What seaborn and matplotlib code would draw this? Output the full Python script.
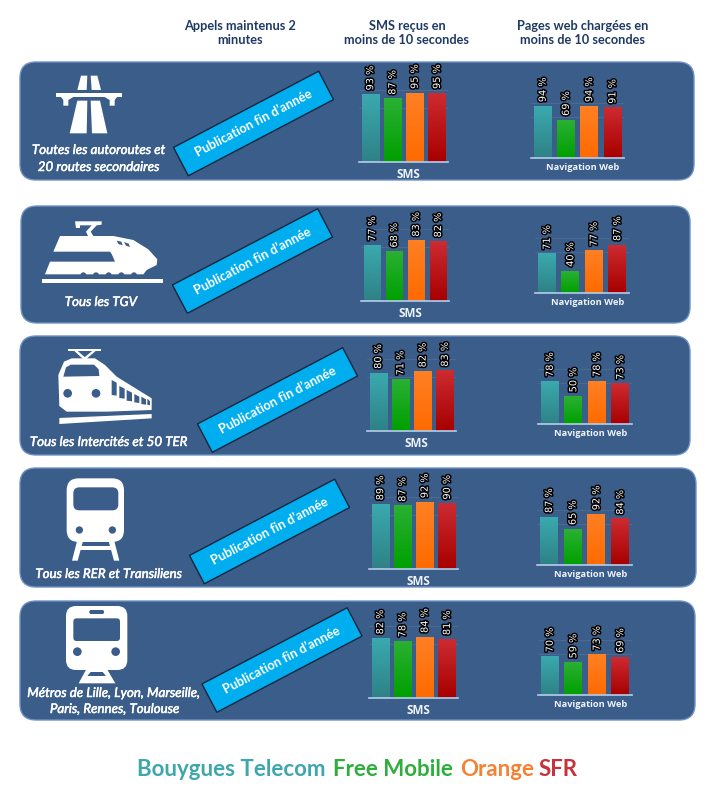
import numpy as np
import pandas as pd
import matplotlib
matplotlib.use("Agg")
import matplotlib.pyplot as plt
import matplotlib.patheffects as pe
from matplotlib.colors import LinearSegmentedColormap
from matplotlib.patches import Circle, FancyBboxPatch, Polygon
import seaborn as sns

operators = ["Bouygues Telecom", "Free Mobile", "Orange", "SFR"]
sms_values = [
    [93, 87, 95, 95],
    [77, 68, 83, 82],
    [80, 71, 82, 83],
    [89, 87, 92, 90],
    [82, 78, 84, 81],
]
web_values = [
    [94, 69, 94, 91],
    [71, 40, 77, 87],
    [78, 50, 78, 73],
    [87, 65, 92, 84],
    [70, 59, 73, 69],
]
row_labels = [
    ["Toutes les autoroutes et", "20 routes secondaires"],
    ["Tous les TGV"],
    ["Tous les Intercités et 50 TER"],
    ["Tous les RER et Transiliens"],
    ["Métros de Lille, Lyon, Marseille,", "Paris, Rennes, Toulouse"],
]
headers = [
    "Appels maintenus 2\nminutes",
    "SMS reçus en\nmoins de 10 secondes",
    "Pages web chargées en\nmoins de 10 secondes",
]
banner_text = "Publication fin d’année"

# layout, everything in image pixels
W, H = 709, 793
panels = [(20, 62, 694, 180), (21, 206, 690, 323), (20, 336, 690, 455), (20, 468, 696, 587), (20, 601, 695, 720)]
banners = [(253.5, 123.5), (252.5, 261), (277.5, 400), (269.5, 531.5), (282, 660)]
sms_axes = [(359, 448, 162), (361, 449, 301), (367, 456, 431), (369, 458, 569), (369, 458, 698)]
web_axes = [(531, 624, 158), (535, 629, 293), (538, 632, 424), (537, 632, 565), (538, 632, 695)]
label_pos = [
    [(99, 150), (99, 167)],
    [(101, 302)],
    [(109, 442)],
    [(109, 574)],
    [(114, 693), (115, 709)],
]
header_x = [240, 407, 583]
legend_x = [137, 333, 460, 539]

PANEL = "#3b5d8a"
TOPS = ["#3aa9ae", "#2ab033", "#ff8024", "#cc2b31"]
BOTTOMS = ["#2e8286", "#00a000", "#ff6a00", "#a80000"]
LEGEND_COLORS = ["#3ea6ad", "#2eae3a", "#f58132", "#c8323a"]

sns.set_theme(style="white")
plt.rcParams["font.family"] = ["Lato", "DejaVu Sans"]

fig = plt.figure(figsize=(W / 100, H / 100), dpi=100)
bg = fig.add_axes([0, 0, 1, 1])
bg.set_xlim(0, W)
bg.set_ylim(H, 0)
bg.axis("off")


def poly(pts, ox, oy, color="white", z=3):
    # icon outlines were read on the 3x crops, hence the /3
    xy = [(ox + x / 3, oy + y / 3) for x, y in pts]
    bg.add_patch(Polygon(xy, closed=True, fc=color, ec="none", zorder=z))


def round_box(x0, y0, x1, y1, r, ox, oy, color="white", z=3):
    bg.add_patch(FancyBboxPatch((ox + (x0 + r) / 3, oy + (y0 + r) / 3), (x1 - x0 - 2 * r) / 3, (y1 - y0 - 2 * r) / 3,
                                boxstyle=f"round,pad={r / 3},rounding_size={r / 3}", fc=color, ec="none", zorder=z))


def dot(x, y, r, ox, oy, color=PANEL, z=4):
    bg.add_patch(Circle((ox + x / 3, oy + y / 3), r / 3, fc=color, ec="none", zorder=z))


def road_icon():
    ox, oy = 0, 50
    poly([(232, 120), (243, 77), (262, 77), (260, 120)], ox, oy)
    poly([(272, 77), (292, 77), (303, 120), (275, 120)], ox, oy)
    poly([(168, 128), (366, 128), (366, 140), (168, 140)], ox, oy)
    poly([(182, 140), (222, 140), (205, 150), (205, 167), (190, 167), (190, 150)], ox, oy)
    poly([(312, 140), (352, 140), (344, 150), (344, 167), (329, 167), (329, 150)], ox, oy)
    poly([(209, 250), (232, 152), (262, 152), (260, 250)], ox, oy)
    poly([(272, 152), (300, 152), (322, 250), (276, 250)], ox, oy)


def tgv_icon():
    ox, oy = 0, 50
    poly([(225, 514), (305, 514), (305, 524), (290, 526), (272, 545), (280, 558), (264, 558), (258, 545),
          (275, 526), (240, 526), (240, 534), (228, 534)], ox, oy)
    poly([(160, 605), (180, 558), (340, 558), (400, 570), (445, 598), (472, 628), (470, 645), (440, 660),
          (430, 673), (135, 673), (150, 635), (345, 635), (335, 612), (330, 605)], ox, oy)
    poly([(350, 572), (364, 575), (368, 585), (356, 583)], ox, oy, PANEL, 4)
    poly([(372, 576), (386, 581), (390, 591), (378, 587)], ox, oy, PANEL, 4)
    for x in [250, 288, 326, 364, 402]:
        dot(x, 676, 9, ox, oy)
    poly([(125, 687), (490, 687), (490, 699), (125, 699)], ox, oy)


def intercity_icon():
    ox, oy = 0, 330
    poly([(205, 56), (302, 56), (302, 63), (205, 63)], ox, oy)
    poly([(222, 62), (232, 62), (262, 88), (250, 88)], ox, oy)
    poly([(278, 62), (288, 62), (258, 88), (246, 88)], ox, oy)
    poly([(175, 135), (192, 95), (215, 85), (285, 85), (315, 105), (350, 140), (455, 205), (455, 240),
          (320, 245), (200, 245), (178, 228)], ox, oy)
    poly([(190, 140), (198, 112), (212, 104), (282, 104), (296, 118), (298, 138)], ox, oy, PANEL, 4)
    dot(203, 190, 13, ox, oy)
    dot(288, 190, 13, ox, oy)
    for x0, x1, ya, yb in [(335, 350, 150, 195), (358, 374, 168, 204), (380, 396, 180, 212),
                           (403, 418, 192, 217), (424, 438, 200, 222), (442, 450, 206, 224)]:
        poly([(x0, ya), (x1, ya + 8), (x1, yb + 2), (x0, yb)], ox, oy, PANEL, 4)
    poly([(178, 264), (455, 252), (455, 265), (178, 282)], ox, oy)


def rer_icon():
    ox, oy = 0, 330
    round_box(200, 445, 372, 636, 36, ox, oy)
    round_box(220, 472, 355, 541, 18, ox, oy, PANEL, 4)
    dot(238, 600, 11, ox, oy)
    dot(337, 600, 11, ox, oy)
    poly([(232, 630), (250, 630), (233, 692), (216, 692)], ox, oy)
    poly([(325, 630), (342, 630), (358, 692), (342, 692)], ox, oy)
    poly([(240, 648), (335, 648), (338, 660), (237, 660)], ox, oy)


def metro_icon():
    ox, oy = 0, 330
    round_box(198, 828, 382, 1020, 30, ox, oy)
    round_box(268, 840, 312, 852, 5, ox, oy, PANEL, 4)
    round_box(220, 865, 360, 933, 10, ox, oy, PANEL, 4)
    dot(232, 965, 13, ox, oy)
    dot(347, 965, 13, ox, oy)
    poly([(236, 1060), (262, 1012), (318, 1012), (346, 1060)], ox, oy)
    poly([(272, 1026), (308, 1026), (318, 1038), (262, 1038)], ox, oy, PANEL, 4)


icons = [road_icon, tgv_icon, intercity_icon, rer_icon, metro_icon]


def chart(values, box, px_per_100, width, xname, xsize, pad):
    x0, x1, base = box
    ax = fig.add_axes([x0 / W, 1 - base / H, (x1 - x0) / W, px_per_100 / H], facecolor="none")
    df = pd.DataFrame({"operator": operators, "value": values})
    sns.barplot(data=df, x="operator", y="value", hue="operator", palette=TOPS, width=width,
                legend=False, ax=ax, saturation=1, linewidth=0)
    ax.set_xlim(-0.5, 3.5)
    ax.set_ylim(0, 100)
    for i, bar in enumerate(ax.patches):
        cmap = LinearSegmentedColormap.from_list("g", [BOTTOMS[i], TOPS[i]])
        ax.imshow(np.linspace(1, 0, 32).reshape(-1, 1), cmap=cmap, aspect="auto", zorder=2.5,
                  extent=[bar.get_x(), bar.get_x() + bar.get_width(), 0, bar.get_height()])
    ax.set_xlim(-0.5, 3.5)
    ax.set_ylim(0, 100)
    for cont in ax.containers:
        labels = ax.bar_label(cont, fmt="%d %%", rotation=90, padding=3, fontsize=7,
                              color="white", family="DejaVu Sans", zorder=5)
        for t in labels:
            t.set_path_effects([pe.withStroke(linewidth=2.2, foreground="black")])
    ax.set_yticks([75, 100])
    ax.set_yticklabels([])
    ax.set_xticks([])
    ax.grid(axis="y", color="#4f6d94", lw=0.6)
    ax.set_axisbelow(True)
    ax.tick_params(length=0)
    ax.set_ylabel("")
    ax.set_xlabel(xname, x=0.56, color="#eef3fa", fontsize=xsize, fontweight="bold", family="Open Sans", labelpad=pad)
    sns.despine(ax=ax, left=True, right=True, top=True)
    ax.spines["bottom"].set_color("#b5cdea")
    ax.spines["bottom"].set_linewidth(1.2)


for i, (x0, y0, x1, y1) in enumerate(panels):
    r = 16
    bg.add_patch(FancyBboxPatch((x0 + r, y0 + r), x1 - x0 - 2 * r, y1 - y0 - 2 * r,
                                boxstyle=f"round,pad={r},rounding_size={r}", fc=PANEL, ec="#6f92c4", lw=1, zorder=1))
    icons[i]()
    for line, (lx, ly) in zip(row_labels[i], label_pos[i]):
        t = bg.text(lx, ly, line, color="white", fontsize=9.6, style="italic",
                    ha="center", va="center", zorder=5)
        t.set_path_effects([pe.withStroke(linewidth=0.35, foreground="white")])

    # rotated blue banner
    cx, cy = banners[i]
    ang = np.radians(27.7)
    u = np.array([np.cos(ang), -np.sin(ang)]) * 82
    v = np.array([np.sin(ang), np.cos(ang)]) * 16
    c = np.array([cx, cy])
    bg.add_patch(Polygon([c - u - v, c + u - v, c + u + v, c - u + v], closed=True,
                         fc="#00aeef", ec="#12263f", lw=1, zorder=3))
    bg.text(cx, cy, banner_text, color="white", fontsize=9.2, fontweight="bold", rotation=27.7,
            rotation_mode="anchor", ha="center", va="center", zorder=5)

    chart(sms_values[i], sms_axes[i], 72.5, 0.77, "SMS", 8.4, 4.5)
    chart(web_values[i], web_axes[i], 55, 0.75, "Navigation Web", 6.7, 3.5)

for x, head in zip(header_x, headers):
    bg.text(x, 33, head, color="#1f3a64", fontsize=9.2, fontweight="bold", ha="center", va="center",
            linespacing=1.3, multialignment="center")

for x, name, col in zip(legend_x, operators, LEGEND_COLORS):
    bg.text(x, 770, name, color=col, fontsize=16, fontweight="bold", ha="left", va="center")

fig.savefig("out.png", dpi=100)
